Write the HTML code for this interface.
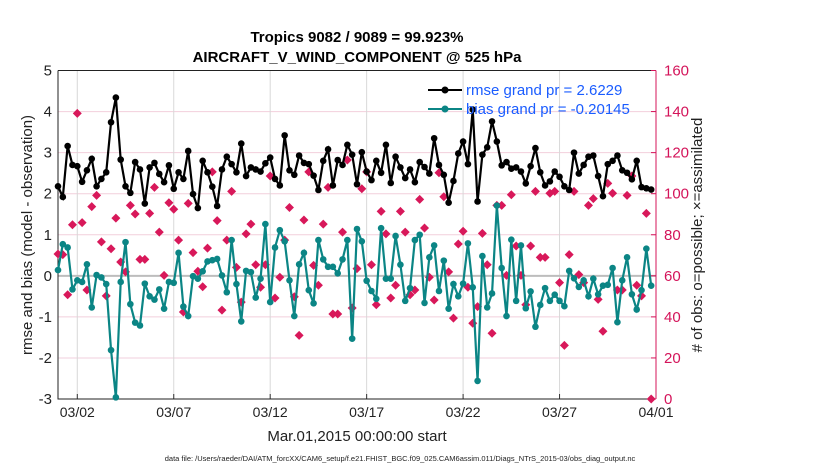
<!DOCTYPE html>
<html><head><meta charset="utf-8"><style>
body{margin:0;background:#fff;}
svg{display:block;font-family:"Liberation Sans",sans-serif;}
</style></head><body>
<svg id="chart" width="830" height="470" viewBox="0 0 830 470">
<rect width="830" height="470" fill="#fff"/>
<text x="357" y="42" text-anchor="middle" font-size="15" font-weight="bold">Tropics 9082 / 9089 = 99.923%</text>
<text x="357" y="62" text-anchor="middle" font-size="15" font-weight="bold">AIRCRAFT_V_WIND_COMPONENT @ 525 hPa</text>
<g id="grid"></g>
<g id="axes"></g>
<g id="marks"></g>
<text transform="translate(32,235) rotate(-90)" text-anchor="middle" font-size="15" fill="#222">rmse and bias (model - observation)</text>
<text transform="translate(702,235) rotate(-90)" text-anchor="middle" font-size="15" fill="#222"># of obs: o=possible; ×=assimilated</text>
<text x="357" y="441" text-anchor="middle" font-size="15" fill="#222">Mar.01,2015 00:00:00 start</text>
<text x="400" y="461" text-anchor="middle" font-size="7.5" fill="#222">data file: /Users/raeder/DAI/ATM_forcXX/CAM6_setup/f.e21.FHIST_BGC.f09_025.CAM6assim.011/Diags_NTrS_2015-03/obs_diag_output.nc</text>
<g id="legend">
<line x1="428" y1="90" x2="462" y2="90" stroke="#000" stroke-width="2"/>
<circle cx="445" cy="90" r="3.5" fill="#000"/>
<text x="466" y="95" font-size="15" fill="#1a5cff">rmse grand pr = 2.6229</text>
<line x1="428" y1="109" x2="462" y2="109" stroke="#0b8585" stroke-width="2"/>
<circle cx="445" cy="109" r="3.5" fill="#0b8585"/>
<text x="466" y="114" font-size="15" fill="#1a5cff">bias grand pr = -0.20145</text>
</g>
</svg>
<script>
const rmse=[2.18,1.92,3.16,2.70,2.67,2.29,2.57,2.85,2.18,2.36,2.52,3.74,4.34,2.83,2.18,2.02,2.77,2.59,1.76,2.64,2.75,2.48,2.28,2.69,2.12,2.52,2.36,3.04,1.99,1.65,2.80,2.52,
2.17,1.70,2.59,2.90,2.72,2.52,3.22,2.43,2.64,2.59,2.54,2.74,2.88,2.36,2.20,3.42,2.57,2.46,2.93,2.75,2.72,2.44,2.09,2.80,3.08,2.20,2.82,2.70,3.19,2.95,2.23,
3.01,2.54,2.33,2.80,2.51,3.19,2.26,2.90,2.64,2.38,2.59,2.28,2.77,2.65,2.49,3.35,2.70,2.46,1.78,2.31,2.98,3.27,2.72,4.05,1.81,2.95,3.13,3.76,3.27,2.69,2.77,
2.61,2.64,2.54,2.25,2.67,3.11,2.52,2.20,2.30,2.54,2.41,2.18,2.09,3.00,2.49,2.70,2.90,2.93,2.43,1.94,2.72,2.80,2.93,2.57,2.51,2.35,2.80,2.16,2.13,2.10];
const bias=[0.14,0.77,0.69,-0.33,-0.11,-0.15,0.28,-0.77,0.02,-0.04,-0.20,-1.81,-2.96,-0.15,0.82,-0.69,-1.14,-1.21,-0.19,-0.50,-0.58,-0.33,-0.80,-0.15,-0.17,0.56,-0.75,-0.98,-0.01,-0.07,0.11,0.35,
0.38,0.41,0.01,-0.40,0.87,-0.20,-1.11,0.12,0.09,-0.53,-0.07,1.26,-0.64,0.69,1.11,0.84,-0.11,-0.98,0.28,0.56,-0.35,-0.67,0.87,0.40,0.22,0.22,0.06,0.40,0.87,-1.53,1.14,
0.84,-0.12,-0.37,-0.56,1.16,-0.07,-0.07,0.97,0.27,-0.61,-0.30,0.87,1.00,-0.66,0.45,0.74,-0.37,0.37,-0.80,-0.20,-0.50,-0.19,0.79,-0.28,-2.56,0.48,-0.77,-0.43,1.71,0.19,-0.98,0.88,
-0.61,0.74,-0.79,-0.38,-1.24,-0.71,-0.30,-0.61,-0.46,-0.61,-0.74,0.12,-0.06,-0.27,-0.11,-0.50,-0.07,-0.45,-0.24,-0.22,0.19,-1.13,-0.11,0.45,-0.45,-0.82,-0.35,0.66,-0.24];
const obsCount=[70.6,70.3,50.8,84.9,139.1,85.9,53.1,93.7,99.2,76.5,50.2,73.2,88.1,66.7,61.9,94.3,90.1,68.0,68.0,90.4,103.1,81.3,60.2,95.6,92.4,77.4,42.4,95.3,71.3,62.2,54.7,73.5,
110.6,86.9,43.3,77.4,101.1,64.1,47.2,80.4,85.2,65.4,54.4,65.4,108.6,49.2,59.3,77.4,93.3,49.8,31.0,87.2,110.6,65.1,55.4,85.2,103.1,41.4,41.4,81.3,116.4,44.3,63.5,
102.4,110.6,65.4,45.9,91.4,80.4,49.2,55.4,91.4,81.3,50.8,53.1,97.2,83.3,59.3,48.2,110.2,98.5,61.9,39.4,75.5,81.7,54.4,36.9,45.0,80.7,65.4,32.0,94.3,94.3,60.2,
99.5,74.5,60.2,45.9,74.5,101.1,69.0,69.0,100.2,101.1,56.7,26.1,70.3,101.1,60.6,56.7,94.3,97.6,48.5,33.0,105.0,100.2,53.1,53.1,99.2,108.6,55.4,50.2,90.4,0];
const leftTicks=[5,4,3,2,1,0,-1,-2,-3];
const rightTicks=[160,140,120,100,80,60,40,20,0];
const dateTickDays=[1,6,11,16,21,26,31];
const dateTickLabels=["03/02","03/07","03/12","03/17","03/22","03/27","04/01"];
const stepDays=0.25;

const NS="http://www.w3.org/2000/svg";
const X0=58,X1=656,Y0=70.5,Y1=399;
const xs=d=>X0+(d/31)*(X1-X0);
const yl=v=>Y1-(v+3)/8*(Y1-Y0);
const yr=v=>Y1-v/160*(Y1-Y0);
function mk(tag,attrs,parent){const e=document.createElementNS(NS,tag);for(const k in attrs)e.setAttribute(k,attrs[k]);parent.appendChild(e);return e;}
const grid=document.getElementById('grid'),axes=document.getElementById('axes'),marks=document.getElementById('marks');
rightTicks.forEach(v=>{const l=mk('line',{x1:X0,x2:X1,y1:yr(v),y2:yr(v),stroke:'#f2cfdc','stroke-width':1},grid);

});
dateTickDays.forEach((d,i)=>{const l=mk('line',{x1:xs(d),x2:xs(d),y1:Y0,y2:Y1,stroke:'#d8d8d8','stroke-width':1},grid);


const t=mk('line',{x1:xs(d),x2:xs(d),y1:Y1,y2:Y1-5,stroke:'#333'},axes);


const tx=mk('text',{x:xs(d),y:417,'text-anchor':'middle','font-size':14,fill:'#222'},axes);tx.textContent=dateTickLabels[i];

});
const zl=mk('line',{x1:X0,x2:X1,y1:yl(0),y2:yl(0),stroke:'#bdbdbd','stroke-width':2},grid);


const frame=mk('path',{d:`M${X0},${Y0}H${X1}M${X0},${Y0}V${Y1}H${X1}`,stroke:'#222',fill:'none','stroke-width':1},axes);


const ra=mk('line',{x1:X1,x2:X1,y1:Y0,y2:Y1,stroke:'#d4145a','stroke-width':1},axes);


leftTicks.forEach(v=>{const t=mk('text',{x:X0-6,y:yl(v)+5,'text-anchor':'end','font-size':15,fill:'#222'},axes);t.textContent=v;

});
rightTicks.forEach(v=>{const t=mk('line',{x1:X1,x2:X1-5,y1:yr(v),y2:yr(v),stroke:'#d4145a'},axes);


const tx=mk('text',{x:X1+8,y:yr(v)+5,'font-size':15,fill:'#d4145a'},axes);tx.textContent=v;

});
// obs counts
obsCount.forEach((c,i)=>{const x=xs(i*stepDays),y=yr(c);
const p=mk('path',{d:`M${x},${y-4.5}L${x+4.5},${y}L${x},${y+4.5}L${x-4.5},${y}Z`,fill:'#d8185a'},marks);

});
function series(arr,color,name){
const pts=arr.map((v,i)=>[xs(i*stepDays),yl(v)]);
const pl=mk('polyline',{points:pts.map(p=>p.join(',')).join(' '),fill:'none',stroke:color,'stroke-width':2.2},marks);


pts.forEach(p=>{const c=mk('circle',{cx:p[0],cy:p[1],r:3.3,fill:color},marks);

});}
series(bias,'#0b8585','bias');
series(rmse,'#000','rmse');
</script>
</body></html>
